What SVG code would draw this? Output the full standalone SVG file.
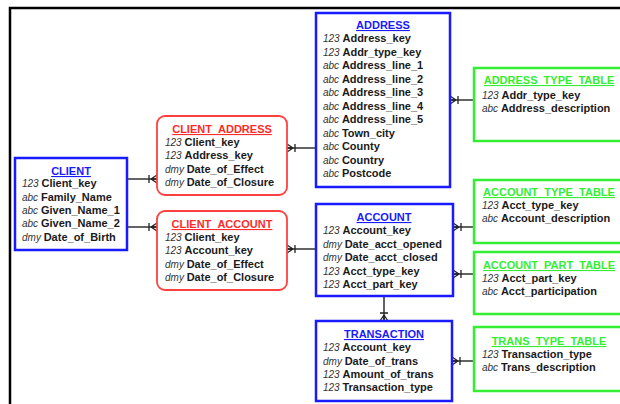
<svg xmlns="http://www.w3.org/2000/svg" width="620" height="404" viewBox="0 0 620 404">
<style>
text{font-family:"Liberation Sans",Arial,sans-serif;}
.t{font-size:11px;font-weight:bold;text-decoration:underline;text-anchor:middle;}
.tb{fill:#1a1aff;}
.tr{fill:#ff2a2a;}
.tg{fill:#33ee33;}
.f{font-size:11px;font-weight:bold;fill:#1a1a1a;}
.p{font-size:10px;font-style:italic;font-weight:normal;fill:#333;}
.eb{fill:#fff;stroke:#1a1aff;stroke-width:2.5;}
.er{fill:#fff;stroke:#ff4040;stroke-width:1.8;}
.eg{fill:#fff;stroke:#33ee33;stroke-width:2.5;}
.c{stroke:#222;stroke-width:1.4;fill:none;marker-end:url(#many);}
</style>
<defs>
<marker id="many" markerUnits="userSpaceOnUse" markerWidth="14" markerHeight="14" refX="10" refY="6" orient="auto" overflow="visible">
<path d="M4,6 L10,2 M4,6 L10,6 M4,6 L10,10 M2,2 L2,10" stroke="#222" stroke-width="1.3" fill="none"/>
</marker>
</defs>
<g id="frame" stroke="#000" stroke-width="2.5" fill="none">
<path d="M10,404 L10,8 L620,8"/>
</g>
<g id="connectors">
<line class="c" x1="127" y1="179" x2="157" y2="179"/>
<line class="c" x1="127" y1="227" x2="157" y2="227"/>
<line class="c" x1="316" y1="148" x2="287" y2="148"/>
<line class="c" x1="316" y1="249" x2="287" y2="249"/>
<line class="c" x1="474" y1="100" x2="450" y2="100"/>
<line class="c" x1="474" y1="227" x2="453" y2="227"/>
<line class="c" x1="474" y1="274" x2="453" y2="274"/>
<line class="c" x1="474" y1="361" x2="452" y2="361"/>
<line class="c" x1="384" y1="296" x2="384" y2="321"/>
</g>
<g id="client">
<rect class="eb" x="15" y="158" width="112" height="92"/>
<text class="t tb" x="71" y="175">CLIENT</text>
<text class="f" x="22" y="187"><tspan class="p">123 </tspan>Client_key</text>
<text class="f" x="22" y="201"><tspan class="p">abc </tspan>Family_Name</text>
<text class="f" x="22" y="214"><tspan class="p">abc </tspan>Given_Name_1</text>
<text class="f" x="22" y="227"><tspan class="p">abc </tspan>Given_Name_2</text>
<text class="f" x="22" y="241"><tspan class="p">dmy </tspan>Date_of_Birth</text>
</g>
<g id="client_address">
<rect class="er" x="157" y="116" width="130" height="79" rx="8"/>
<text class="t tr" x="222" y="133">CLIENT_ADDRESS</text>
<text class="f" x="165" y="146"><tspan class="p">123 </tspan>Client_key</text>
<text class="f" x="165" y="159"><tspan class="p">123 </tspan>Address_key</text>
<text class="f" x="165" y="173"><tspan class="p">dmy </tspan>Date_of_Effect</text>
<text class="f" x="165" y="186"><tspan class="p">dmy </tspan>Date_of_Closure</text>
</g>
<g id="client_account">
<rect class="er" x="157" y="211" width="130" height="79" rx="8"/>
<text class="t tr" x="222" y="228">CLIENT_ACCOUNT</text>
<text class="f" x="165" y="241"><tspan class="p">123 </tspan>Client_key</text>
<text class="f" x="165" y="254"><tspan class="p">123 </tspan>Account_key</text>
<text class="f" x="165" y="268"><tspan class="p">dmy </tspan>Date_of_Effect</text>
<text class="f" x="165" y="281"><tspan class="p">dmy </tspan>Date_of_Closure</text>
</g>
<g id="address">
<rect class="eb" x="316" y="13" width="134" height="174"/>
<text class="t tb" x="383" y="29">ADDRESS</text>
<text class="f" x="323" y="42"><tspan class="p">123 </tspan>Address_key</text>
<text class="f" x="323" y="55.5"><tspan class="p">123 </tspan>Addr_type_key</text>
<text class="f" x="323" y="69"><tspan class="p">abc </tspan>Address_line_1</text>
<text class="f" x="323" y="82.5"><tspan class="p">abc </tspan>Address_line_2</text>
<text class="f" x="323" y="96"><tspan class="p">abc </tspan>Address_line_3</text>
<text class="f" x="323" y="109.5"><tspan class="p">abc </tspan>Address_line_4</text>
<text class="f" x="323" y="123"><tspan class="p">abc </tspan>Address_line_5</text>
<text class="f" x="323" y="136.5"><tspan class="p">abc </tspan>Town_city</text>
<text class="f" x="323" y="150"><tspan class="p">abc </tspan>County</text>
<text class="f" x="323" y="163.5"><tspan class="p">abc </tspan>Country</text>
<text class="f" x="323" y="177"><tspan class="p">abc </tspan>Postcode</text>
</g>
<g id="account">
<rect class="eb" x="316" y="204" width="137" height="92"/>
<text class="t tb" x="384" y="221">ACCOUNT</text>
<text class="f" x="323" y="234"><tspan class="p">123 </tspan>Account_key</text>
<text class="f" x="323" y="247.5"><tspan class="p">dmy </tspan>Date_acct_opened</text>
<text class="f" x="323" y="261"><tspan class="p">dmy </tspan>Date_acct_closed</text>
<text class="f" x="323" y="274.5"><tspan class="p">123 </tspan>Acct_type_key</text>
<text class="f" x="323" y="288"><tspan class="p">123 </tspan>Acct_part_key</text>
</g>
<g id="transaction">
<rect class="eb" x="316" y="321" width="136" height="80"/>
<text class="t tb" x="384" y="338">TRANSACTION</text>
<text class="f" x="323" y="351"><tspan class="p">123 </tspan>Account_key</text>
<text class="f" x="323" y="364.5"><tspan class="p">dmy </tspan>Date_of_trans</text>
<text class="f" x="323" y="378"><tspan class="p">123 </tspan>Amount_of_trans</text>
<text class="f" x="323" y="391"><tspan class="p">123 </tspan>Transaction_type</text>
</g>
<g id="address_type_table">
<rect class="eg" x="474" y="68" width="152" height="73"/>
<text class="t tg" x="549" y="84">ADDRESS_TYPE_TABLE</text>
<text class="f" x="482" y="99"><tspan class="p">123 </tspan>Addr_type_key</text>
<text class="f" x="482" y="112"><tspan class="p">abc </tspan>Address_description</text>
</g>
<g id="account_type_table">
<rect class="eg" x="474" y="180" width="152" height="63"/>
<text class="t tg" x="549" y="196">ACCOUNT_TYPE_TABLE</text>
<text class="f" x="482" y="209"><tspan class="p">123 </tspan>Acct_type_key</text>
<text class="f" x="482" y="222"><tspan class="p">abc </tspan>Account_description</text>
</g>
<g id="account_part_table">
<rect class="eg" x="474" y="252" width="152" height="62"/>
<text class="t tg" x="549" y="269">ACCOUNT_PART_TABLE</text>
<text class="f" x="482" y="282"><tspan class="p">123 </tspan>Acct_part_key</text>
<text class="f" x="482" y="295"><tspan class="p">abc </tspan>Acct_participation</text>
</g>
<g id="trans_type_table">
<rect class="eg" x="474" y="327" width="152" height="64"/>
<text class="t tg" x="549" y="345">TRANS_TYPE_TABLE</text>
<text class="f" x="482" y="358"><tspan class="p">123 </tspan>Transaction_type</text>
<text class="f" x="482" y="371"><tspan class="p">abc </tspan>Trans_description</text>
</g>
</svg>
